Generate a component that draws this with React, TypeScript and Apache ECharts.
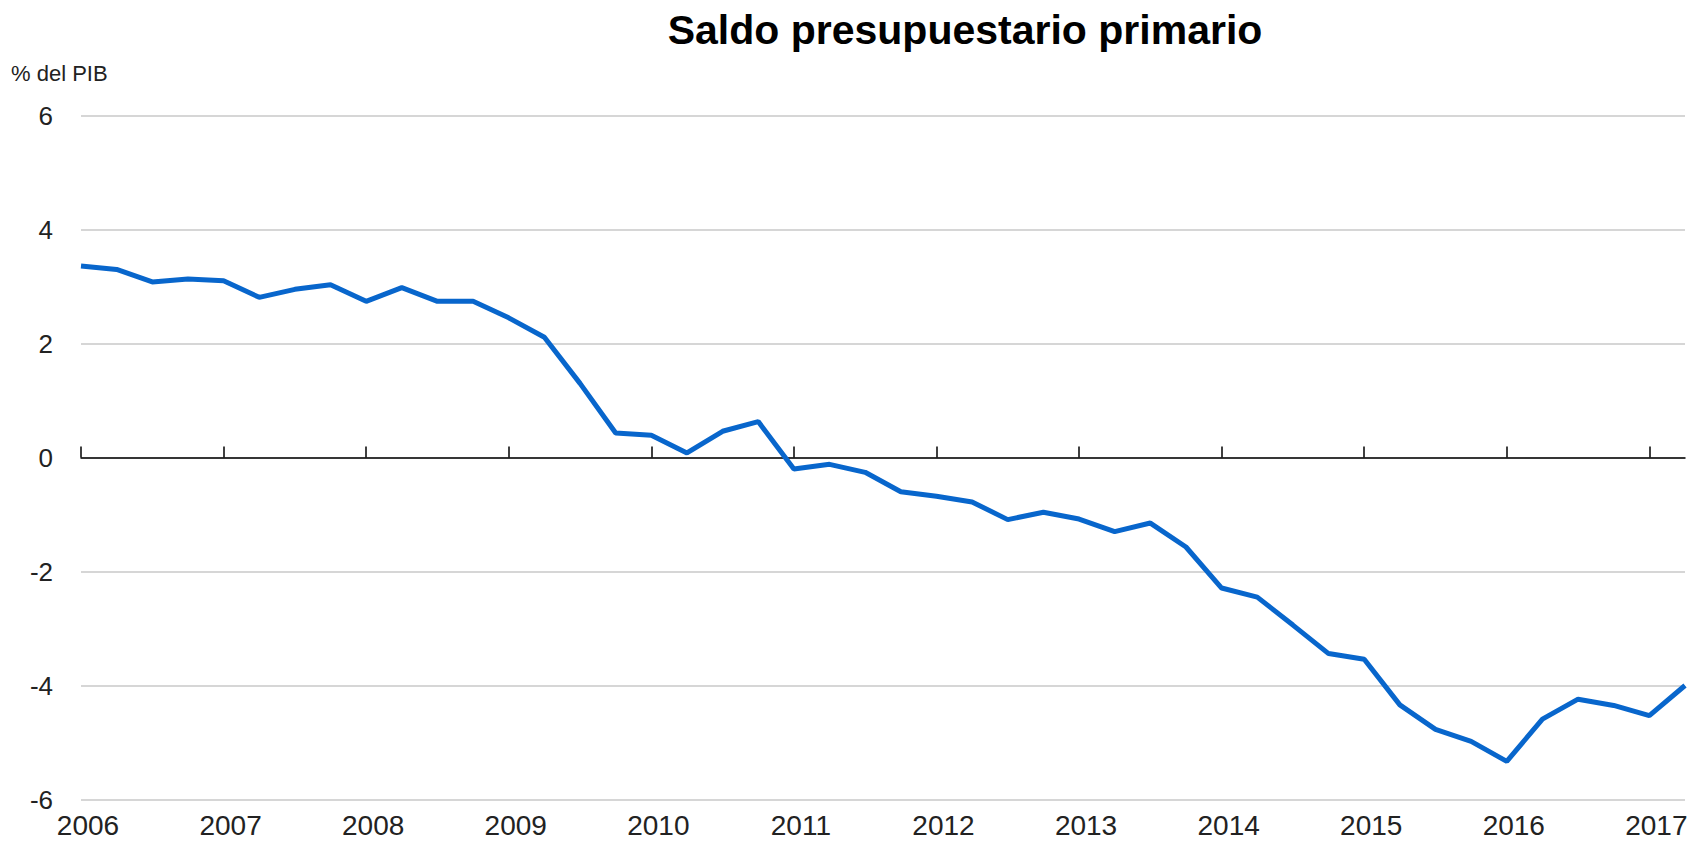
import React, { useEffect, useRef } from "react";
import * as echarts from "echarts";

const years = ["2006", "2007", "2008", "2009", "2010", "2011", "2012", "2013", "2014", "2015", "2016", "2017"];
const quarters = ["T1", "T2", "T3", "T4"];
const categories: string[] = [];
years.forEach((y) => quarters.forEach((q) => categories.push(`${y}-${q}`)));
categories.splice(46);

const saldoPrimario = [
  3.36, 3.3, 3.08, 3.13, 3.1, 2.81, 2.95, 3.03, 2.74, 2.98, 2.74, 2.74,
  2.45, 2.11, 1.3, 0.43, 0.39, 0.08, 0.46, 0.63, -0.2, -0.12, -0.26, -0.6,
  -0.68, -0.78, -1.09, -0.96, -1.08, -1.3, -1.15, -1.57, -2.29, -2.45, -2.94, -3.44,
  -3.54, -4.34, -4.77, -4.98, -5.33, -4.59, -4.24, -4.35, -4.53, -4.0,
];

const FONT = "'Liberation Sans', Arial, sans-serif";

export default function App() {
  const ref = useRef<HTMLDivElement>(null);
  useEffect(() => {
    document.body.style.margin = "0";
    if (!ref.current) return;
    const chart = echarts.init(ref.current, null, { renderer: "svg" });
    chart.setOption({
      animation: false,
      backgroundColor: "#ffffff",
      graphic: [
        {
          type: "text",
          x: 965,
          y: 30,
          style: {
            text: "Saldo presupuestario primario",
            font: `bold 41px ${FONT}`,
            fill: "#000",
            align: "center",
            verticalAlign: "middle",
          },
        },
        {
          type: "text",
          x: 11,
          y: 73,
          style: { text: "% del PIB", font: `22px ${FONT}`, fill: "#222", verticalAlign: "middle" },
        },
      ],
      grid: { left: 81, right: 16, top: 115.5, bottom: 43.5, containLabel: false },
      xAxis: [
        {
          type: "category",
          data: categories,
          boundaryGap: false,
          axisLine: { onZero: true, lineStyle: { color: "#000", width: 1.5 } },
          axisTick: { show: true, inside: true, length: 11, interval: 3, lineStyle: { color: "#000", width: 1.5 } },
          axisLabel: { show: false },
          splitLine: { show: false },
        },
        {
          type: "category",
          data: categories,
          boundaryGap: false,
          position: "bottom",
          axisLine: { show: false, onZero: false },
          axisTick: { show: false },
          axisLabel: {
            show: true,
            interval: 3,
            margin: 12,
            padding: [0, 0, 0, 14],
            fontFamily: FONT,
            fontSize: 28,
            color: "#222",
            formatter: (v: string) => v.slice(0, 4),
          },
          splitLine: { show: false },
        },
      ],
      yAxis: {
        type: "value",
        min: -6,
        max: 6,
        interval: 2,
        axisLine: { show: false },
        axisTick: { show: false },
        axisLabel: { margin: 28, fontFamily: FONT, fontSize: 26, color: "#222" },
        splitLine: { show: true, lineStyle: { color: "#c8c8c8", width: 1.5 } },
      },
      series: [
        {
          type: "line",
          data: saldoPrimario,
          xAxisIndex: 0,
          symbol: "none",
          lineStyle: { color: "#0866cc", width: 5 },
          z: 3,
        },
      ],
    });
    return () => chart.dispose();
  }, []);
  return <div ref={ref} style={{ width: 1701, height: 843 }} />;
}
